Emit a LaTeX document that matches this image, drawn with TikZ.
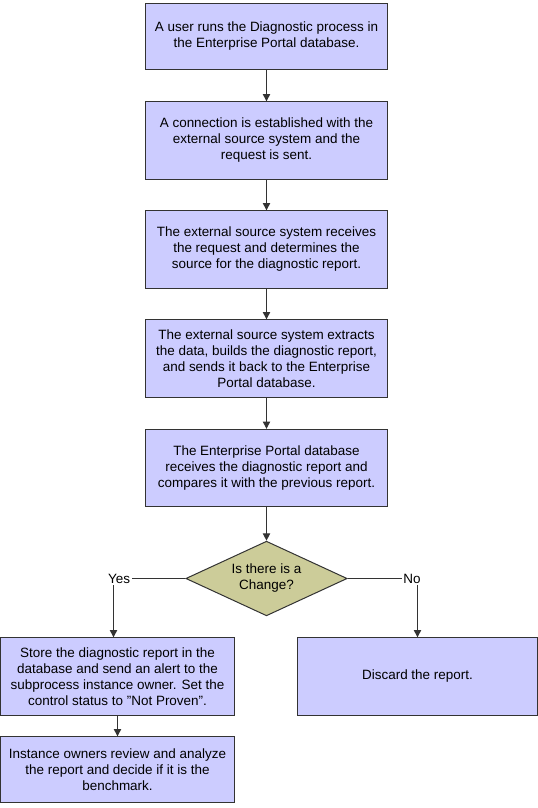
\documentclass[tikz,border=0pt]{standalone}
\usepackage{fontspec}
\setmainfont{Liberation Sans}
\usetikzlibrary{positioning,arrows.meta,shapes.geometric}
\definecolor{boxblue}{HTML}{CCCCFF}
\definecolor{decolive}{HTML}{CCCC99}
\definecolor{edgegray}{HTML}{333333}
\tikzset{
  flowarrow/.style={-{Triangle[length=5.5pt,width=5.5pt]}, line width=0.75pt, draw=edgegray},
  flowline/.style={line width=0.75pt, draw=edgegray},
  stepbox/.style={draw=edgegray, line width=0.75pt, fill=boxblue, minimum width=182pt, minimum height=58pt, align=center, inner sep=2pt},
  widebox/.style={draw=edgegray, line width=0.75pt, fill=boxblue, minimum width=176pt, minimum height=58pt, align=center, inner sep=2pt},
  decision/.style={diamond, draw=edgegray, line width=0.75pt, fill=decolive, minimum width=121pt, minimum height=56pt, aspect=2.1, align=center, inner sep=1pt},
  answer/.style={inner sep=1pt}
}

\begin{document}
\begin{tikzpicture}[x=0.75pt, y=-0.75pt, every node/.style={font=\fontsize{10.1}{12}\selectfont}]
  \useasboundingbox (0,0) rectangle (538,808);
  \node[stepbox, minimum height=49pt] (run) at (266.5,36.5) {A user runs the Diagnostic process in\\ the Enterprise Portal database.};
  \node[stepbox] (connect) at (266.5,140.5) {A connection is established with the\\ external source system and the\\ request is sent.};
  \node[stepbox] (receive) at (266.5,249.5) {The external source system receives\\ the request and determines the\\ source for the diagnostic report.};
  \node[stepbox] (extract) at (266.5,358.5) {The external source system extracts\\ the data, builds the diagnostic report,\\ and sends it back to the Enterprise\\ Portal database.};
  \node[stepbox] (compare) at (266.5,468) {The Enterprise Portal database\\ receives the diagnostic report and\\ compares it with the previous report.};
  \node[decision] (change) at (266.5,578.5) {Is there is a\\ Change?};
  \node[answer] (yes) at (119,578.5) {Yes};
  \node[answer] (no) at (412,578.5) {No};
  \node[widebox] (store) at (117.5,676.5) {Store the diagnostic report in the\\ database and send an alert to the\\ subprocess instance owner. Set the\\ control status to "Not Proven".};
  \node[stepbox, minimum width=180pt] (discard) at (417.5,676.5) {Discard the report.};
  \node[widebox, minimum height=49pt] (review) at (117.5,769.5) {Instance owners review and analyze\\ the report and decide if it is the\\ benchmark.};
  \draw[flowarrow] (run) -- (connect);
  \draw[flowarrow] (connect) -- (receive);
  \draw[flowarrow] (receive) -- (extract);
  \draw[flowarrow] (extract) -- (compare);
  \draw[flowarrow] (compare) -- (change);
  \draw[flowline] (change) -- (yes);
  \draw[flowline] (change) -- (no);
  \draw[flowarrow] ([xshift=-3pt]yes.south -| store.north) -- ([xshift=-3pt]store.north);
  \draw[flowarrow] (no.south -| discard.north) -- (discard.north);
  \draw[flowarrow] (store) -- (review);
\end{tikzpicture}
\end{document}
